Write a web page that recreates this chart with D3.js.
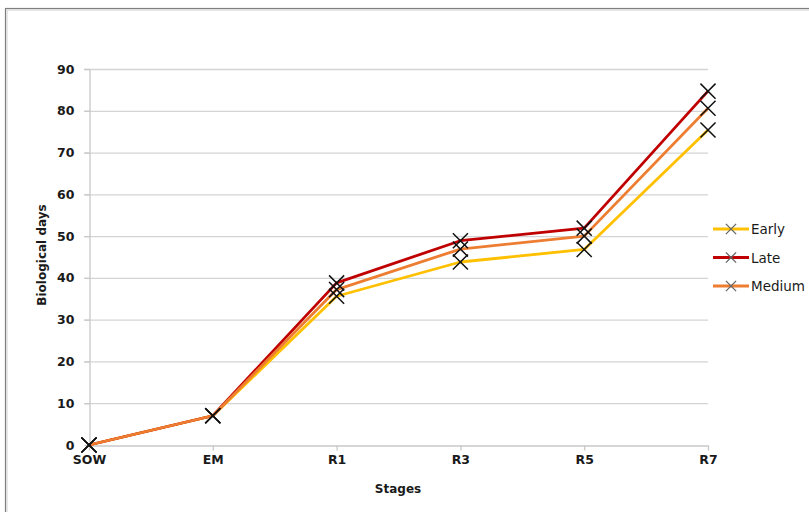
<!DOCTYPE html>
<html>
<head>
<meta charset="utf-8">
<script src="https://cdn.jsdelivr.net/npm/d3@7"></script>
<style>
  html, body { margin: 0; padding: 0; background: #fff; }
  svg { display: block; }
</style>
</head>
<body>
<script>
// Stage categories and biological-day values per maturity group
const stages = ["SOW", "EM", "R1", "R3", "R5", "R7"];
const early  = [0, 7, 35.6, 43.8, 46.8, 75.4];
const late   = [0, 7, 38.8, 48.9, 51.9, 84.7];
const medium = [0, 7, 37.2, 46.9, 50.0, 80.6];
const yTicks = [0, 10, 20, 30, 40, 50, 60, 70, 80, 90];
const seriesNames = ["Early", "Late", "Medium"];
const seriesColors = ["#FFC000", "#C00000", "#ED7D31"];

const series = [
  { name: seriesNames[0], values: early,  color: seriesColors[0] },
  { name: seriesNames[1], values: late,   color: seriesColors[1] },
  { name: seriesNames[2], values: medium, color: seriesColors[2] }
];

const W = 809, H = 512;
const svg = d3.select("body").append("svg").attr("width", W).attr("height", H);
const font = "'DejaVu Sans', Verdana, sans-serif";

// outer chart frame
svg.append("rect").attr("x", 5.5).attr("y", 8.5).attr("width", 900).attr("height", 600)
  .attr("fill", "#fff").attr("stroke", "#7f7f7f").attr("stroke-width", 1.2);
svg.append("rect").attr("x", 7).attr("y", 10).attr("width", 900).attr("height", 600)
  .attr("fill", "none").attr("stroke", "#d0d0d0").attr("stroke-width", 1);

const x = d3.scalePoint().domain(stages).range([89, 708]);
const y = d3.scaleLinear().domain([0, 90]).range([445, 69]);

// horizontal gridlines
svg.append("g").selectAll("line").data(yTicks.filter(t => t > 0)).join("line")
  .attr("x1", 84).attr("x2", 708)
  .attr("y1", d => y(d) + 0.5).attr("y2", d => y(d) + 0.5)
  .attr("stroke", "#d4d4d4").attr("stroke-width", 1.3);

// y axis
const yAxis = svg.append("g").attr("transform", "translate(89.5,0)")
  .call(d3.axisLeft(y).tickValues(yTicks).tickSize(5).tickPadding(10).tickSizeOuter(0));
yAxis.select(".domain").attr("stroke", "#c8c8c8").attr("stroke-width", 1.3);
yAxis.selectAll(".tick line").attr("stroke", "#c8c8c8").attr("stroke-width", 1.3);
yAxis.selectAll(".tick text").attr("font-family", font).attr("font-size", 12.5)
  .attr("font-weight", "bold").attr("fill", "#1a1a1a");

// x axis
const xAxis = svg.append("g").attr("transform", "translate(0,445.5)")
  .call(d3.axisBottom(x).tickSize(5).tickPadding(5).tickSizeOuter(0));
xAxis.select(".domain").attr("stroke", "#c8c8c8").attr("stroke-width", 1.3);
xAxis.selectAll(".tick line").attr("stroke", "#c8c8c8").attr("stroke-width", 1.3);
xAxis.selectAll(".tick text").attr("font-family", font).attr("font-size", 12.5)
  .attr("font-weight", "bold").attr("fill", "#1a1a1a");

// axis titles
svg.append("text").attr("transform", "translate(46,255) rotate(-90)")
  .attr("text-anchor", "middle").attr("font-family", font).attr("font-size", 12)
  .attr("font-weight", "bold").attr("fill", "#1a1a1a").text("Biological days");
svg.append("text").attr("x", 398).attr("y", 493)
  .attr("text-anchor", "middle").attr("font-family", font).attr("font-size", 12)
  .attr("font-weight", "bold").attr("fill", "#1a1a1a").text("Stages");

// series lines
const line = d3.line().x((d, i) => x(stages[i])).y(d => y(d));
svg.append("g").selectAll("path").data(series).join("path")
  .attr("d", s => line(s.values))
  .attr("fill", "none").attr("stroke", s => s.color).attr("stroke-width", 2.8)
  .attr("stroke-linejoin", "round");

// X markers (symbolTimes is a stroked symbol)
const cross = d3.symbol().type(d3.symbolTimes).size(150);
series.forEach(s => {
  svg.append("g").selectAll("path").data(s.values).join("path")
    .attr("transform", (d, i) => `translate(${x(stages[i])},${y(d)})`)
    .attr("d", cross).attr("fill", "none").attr("stroke", "#111").attr("stroke-width", 1.5);
});

// legend
const leg = svg.append("g").selectAll("g").data(series).join("g")
  .attr("transform", (d, i) => `translate(713,${229 + i * 28.5})`);
leg.append("line").attr("x1", 0).attr("x2", 36).attr("y1", 0).attr("y2", 0)
  .attr("stroke", d => d.color).attr("stroke-width", 2.8);
leg.append("path").attr("transform", "translate(18,0)")
  .attr("d", d3.symbol().type(d3.symbolTimes).size(70))
  .attr("fill", "none").attr("stroke", "#666").attr("stroke-width", 1.3);
leg.append("text").attr("x", 38).attr("y", 5).attr("font-family", font)
  .attr("font-size", 13.5).attr("fill", "#1a1a1a").text(d => d.name);
</script>
</body>
</html>
